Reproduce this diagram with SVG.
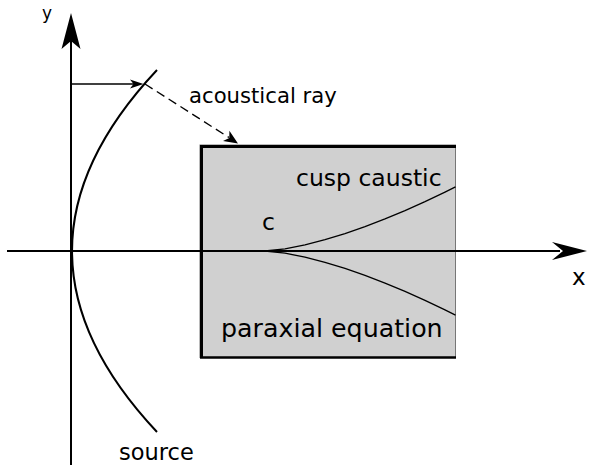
<svg xmlns="http://www.w3.org/2000/svg" width="589" height="468" viewBox="0 0 589 468">
<style>
text{font-family:"DejaVu Sans","Liberation Sans",sans-serif;fill:#000}
.ax{stroke:#000;stroke-width:2;fill:none}
.thin{stroke:#000;stroke-width:1.3;fill:none}
.head{fill:#000;stroke:none}
</style>
<rect width="589" height="468" fill="#fff"/>
<g id="region">
<rect x="200" y="145" width="255.5" height="212.5" fill="#d0d0d0" stroke="#777" stroke-width="1"/>
<path d="M201.5,358 V146.5 H456" fill="none" stroke="#000" stroke-width="3"/>
<path d="M200,357.5 H456" fill="none" stroke="#000" stroke-width="2.5"/>
<text x="296" y="186" font-size="23.5">cusp caustic</text>
<text x="221" y="337" font-size="25.3">paraxial equation</text>
</g>
<g id="caustic">
<path class="thin" d="M265,251 L285,248.82 L305,244.83 L325,239.66 L345,233.54 L365,226.6 L385,218.93 L405,210.58 L425,201.62 L445,192.07 L455.5,186.8"/>
<path class="thin" d="M265,251 L285,253.18 L305,257.17 L325,262.34 L345,268.46 L365,275.4 L385,283.07 L405,291.42 L425,300.38 L445,309.93 L455.5,315.2"/>
<text x="262" y="230" font-size="23.5">c</text>
</g>
<g id="axes">
<path class="ax" d="M7,251 H560"/>
<path class="head" d="M587,251 L552,242 L563,251 L552,260 Z"/>
<text x="572" y="285" font-size="23">x</text>
<path class="ax" d="M71,465 V40"/>
<path class="head" d="M71,13 L80.5,49 L71,41 L61.5,49 Z"/>
<text x="42" y="19" font-size="17">y</text>
</g>
<g id="source">
<path class="ax" d="M157,70 Q-13,251 157,432"/>
<text x="119" y="460" font-size="22.5">source</text>
</g>
<g id="connectors">
<path class="thin" d="M71,84 H135"/>
<path class="head" d="M143.5,84 L130,79.5 L133.5,84 L130,88.5 Z"/>
<path class="thin" d="M145,84 L229,137.5" stroke-dasharray="9,5"/>
<path class="head" d="M238,143.5 L223,141 L229.3,137.9 L229.4,130.7 Z"/>
<text x="189" y="103" font-size="21.2">acoustical ray</text>
</g>
</svg>
